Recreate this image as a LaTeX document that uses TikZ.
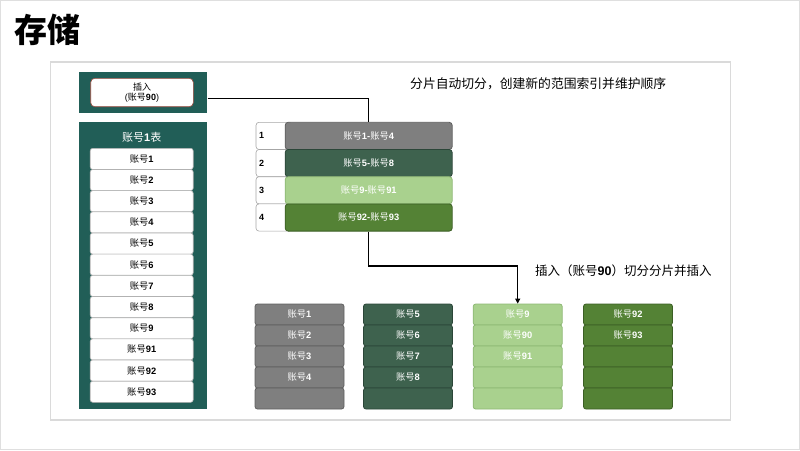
\documentclass[tikz,border=0pt]{standalone}
\usepackage{fontspec}
\setmainfont{Liberation Sans}
\newfontfamily\cjk{Noto Sans CJK SC}
\usetikzlibrary{arrows.meta}
\definecolor{teal1}{HTML}{215E57}
\definecolor{cgray}{HTML}{7F7F7F}
\definecolor{cgrayb}{HTML}{5F5F5F}
\definecolor{cdark}{HTML}{3E624E}
\definecolor{cdarkb}{HTML}{2B4638}
\definecolor{clight}{HTML}{A9D18E}
\definecolor{clightb}{HTML}{8DB874}
\definecolor{cgreen}{HTML}{548235}
\definecolor{cgreenb}{HTML}{3C5F25}
\definecolor{framec}{HTML}{DADADA}
\definecolor{insb}{HTML}{9A4A3E}
\newcommand{\zh}[1]{{\cjk #1}}
\newcommand{\acct}[1]{{\cjk 账号}\textbf{#1}}
\begin{document}
\begin{tikzpicture}[x=1pt,y=-1pt,
  rowfont/.style={font=\fontsize{9.3}{11}\selectfont},
  lrow/.style={rowfont, draw=gray!60, fill=white, rounded corners=2.5pt, minimum width=103pt, minimum height=21.1pt, inner sep=0pt, text=black, line width=0.6pt},
  col/.style={rowfont, draw=#1b, fill=#1, rounded corners=2.5pt, minimum width=89pt, minimum height=21pt, inner sep=0pt, text=white, line width=0.8pt},
  bar/.style={rowfont, draw=#1b, fill=#1, rounded corners=3pt, minimum width=167pt, minimum height=27.2pt, inner sep=0pt, text=white, line width=0.8pt},
  numbox/.style={draw=gray!70, fill=white, rounded corners=3pt, minimum width=36pt, minimum height=27.2pt, inner sep=0pt, line width=0.6pt},
  numlbl/.style={font=\fontsize{9}{10}\selectfont\bfseries, anchor=west, inner sep=0pt},
  conn/.style={line width=1.3pt, black},
  label/.style={font=\fontsize{12.8}{15}\selectfont, inner sep=0pt}
]
\useasboundingbox (0,0) rectangle (800,450);
\draw[gray!25, line width=1pt] (0.5,0.5) rectangle (799.5,449.5);
% title
\node[font=\fontsize{33}{38}\selectfont, inner sep=0pt] (title) at (47,30) {\zh{\bfseries 存储}};
% frame
\node[draw=framec, line width=1.5pt, minimum width=680pt, minimum height=358pt, inner sep=0pt] (frame) at (390.5,241) {};
% insert box
\node[fill=teal1, minimum width=128pt, minimum height=41pt, inner sep=0pt] (insouter) at (143.3,92.8) {};
\node[draw=insb, fill=white, rounded corners=4pt, minimum width=102.6pt, minimum height=28.4pt, inner sep=0pt, line width=0.6pt, align=center, font=\fontsize{9}{10}\selectfont] (ins) at (142,92.5) {\zh{插入}\\(\acct{90})};
% table
\node[fill=teal1, minimum width=128pt, minimum height=287.3pt, inner sep=0pt] (tbl) at (143.3,265.35) {};
\node[text=white, font=\fontsize{11}{13}\selectfont, inner sep=0pt] (tbltitle) at (141.7,137.3) {\acct{1}\zh{表}};
\foreach \t [count=\i] in {1,2,3,4,5,6,7,8,9,91,92,93} {
  \node[lrow] (l\i) at (141.7,{148.3+21.17*(\i-0.5)}) {\acct{\t}};
}
% shard index
\foreach \i in {1,2,3,4} {
  \node[numbox] (n\i) at (274,{122.3+27.2*(\i-0.5)}) {};
  \node[numlbl] (nl\i) at (259,{122.3+27.2*(\i-0.5)}) {\i};
}
\node[bar=cgray] (s1) at (368.7,135.9) {\zh{账号}\textbf{1-}\zh{账号}\textbf{4}};
\node[bar=cdark] (s2) at (368.7,163.1) {\zh{账号}\textbf{5-}\zh{账号}\textbf{8}};
\node[bar=clight] (s3) at (368.7,190.3) {\zh{账号}\textbf{9-}\zh{账号}\textbf{91}};
\node[bar=cgreen] (s4) at (368.7,217.5) {\zh{账号}\textbf{92-}\zh{账号}\textbf{93}};
% labels
\node[label, anchor=west] (lab1) at (410,84) {\zh{分片自动切分，创建新的范围索引并维护顺序}};
\node[label, anchor=west, font=\fontsize{12.5}{15}\selectfont] (lab2) at (535,271) {\zh{插入（账号}\textbf{90}\zh{）切分分片并插入}};
% columns
\foreach \t [count=\i] in {1,2,3,4,{}} {
  \node[col=cgray] (a\i) at (299.5,{304+21*(\i-0.5)}) {\ifx\t\empty\else\acct{\t}\fi};
}
\foreach \t [count=\i] in {5,6,7,8,{}} {
  \node[col=cdark] (b\i) at (408,{304+21*(\i-0.5)}) {\ifx\t\empty\else\acct{\t}\fi};
}
\foreach \t [count=\i] in {9,90,91,{},{}} {
  \node[col=clight] (c\i) at (517.7,{304+21*(\i-0.5)}) {\ifx\t\empty\else\acct{\t}\fi};
}
\foreach \t [count=\i] in {92,93,{},{},{}} {
  \node[col=cgreen] (d\i) at (628,{304+21*(\i-0.5)}) {\ifx\t\empty\else\acct{\t}\fi};
}
% connectors
\draw[conn] ([yshift=-5.5pt]insouter.east) -| (s1.north);
\draw[conn, -{Triangle[length=5pt,width=5pt]}] (s4.south) -- ++(0,34.5) -| (c1.north);
\end{tikzpicture}
\end{document}
